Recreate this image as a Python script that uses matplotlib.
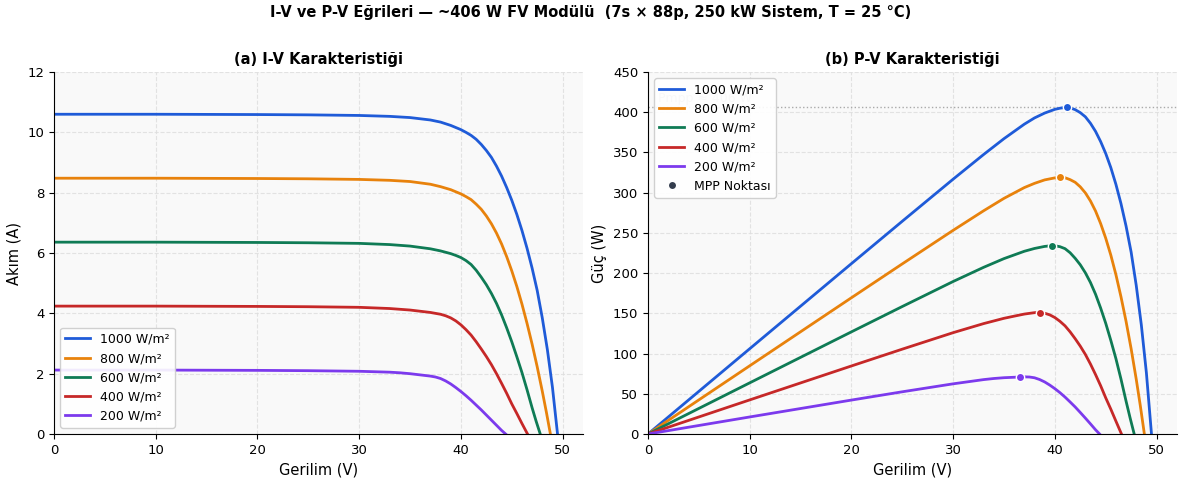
import matplotlib
matplotlib.use("Agg")
import matplotlib.pyplot as plt

# irradiance levels
etiketler = ['1000 W/m²', '800 W/m²', '600 W/m²', '400 W/m²', '200 W/m²']
renkler = ['#1f5bd8', '#e8820c', '#0f7b55', '#c62828', '#7c3aed']

# I-V points (V, A)
v_1000 = [0, 10, 20, 25, 30, 33, 35, 37, 38, 39, 40, 40.5, 41, 41.5, 42, 42.5, 43, 43.5, 44,
          44.5, 45, 45.5, 46, 46.5, 47, 47.5, 48, 48.5, 49, 49.5]
i_1000 = [10.60, 10.60, 10.59, 10.58, 10.56, 10.53, 10.49, 10.41, 10.34, 10.23, 10.09, 10.00,
          9.90, 9.77, 9.60, 9.40, 9.17, 8.88, 8.55, 8.17, 7.75, 7.28, 6.75, 6.16, 5.50, 4.76,
          3.85, 2.80, 1.55, 0]

v_800 = [0, 10, 20, 25, 30, 33, 35, 37, 38, 39, 40, 40.5, 41, 41.5, 42, 42.5, 43, 43.5, 44,
         44.5, 45, 45.5, 46, 46.5, 47, 47.5, 48, 48.4, 48.8]
i_800 = [8.48, 8.48, 8.47, 8.46, 8.44, 8.41, 8.37, 8.28, 8.20, 8.10, 7.96, 7.87, 7.77, 7.62,
         7.45, 7.23, 6.97, 6.66, 6.30, 5.88, 5.41, 4.89, 4.31, 3.67, 2.98, 2.23, 1.42, 0.73, 0]

v_600 = [0, 10, 20, 25, 30, 33, 35, 37, 38, 39, 39.5, 40, 40.5, 41, 41.5, 42, 42.5, 43, 43.5,
         44, 44.5, 45, 45.5, 46, 46.5, 47, 47.4, 47.8]
i_600 = [6.36, 6.36, 6.35, 6.34, 6.32, 6.28, 6.23, 6.14, 6.07, 5.98, 5.92, 5.85, 5.75, 5.62,
         5.43, 5.20, 4.95, 4.66, 4.33, 3.95, 3.52, 3.06, 2.56, 2.04, 1.47, 0.87, 0.42, 0]

v_400 = [0, 10, 20, 25, 30, 33, 35, 36, 37, 37.5, 38, 38.5, 39, 39.5, 40, 40.5, 41, 41.5, 42,
         42.5, 43, 43.5, 44, 44.5, 45, 45.5, 46, 46.55]
i_400 = [4.24, 4.24, 4.23, 4.22, 4.20, 4.16, 4.11, 4.07, 4.03, 4.00, 3.97, 3.92, 3.85, 3.75,
         3.62, 3.46, 3.28, 3.06, 2.82, 2.57, 2.30, 2.00, 1.68, 1.35, 1.00, 0.68, 0.35, 0]

v_200 = [0, 10, 20, 25, 30, 33, 34, 35, 36, 37, 37.5, 38, 38.5, 39, 39.5, 40, 40.5, 41, 41.5,
         42, 42.5, 43, 43.5, 44, 44.4]
i_200 = [2.12, 2.12, 2.11, 2.10, 2.08, 2.05, 2.03, 2.00, 1.96, 1.92, 1.89, 1.84, 1.76, 1.66,
         1.54, 1.41, 1.27, 1.12, 0.96, 0.80, 0.63, 0.46, 0.29, 0.12, 0]

gerilimler = [v_1000, v_800, v_600, v_400, v_200]
akimlar = [i_1000, i_800, i_600, i_400, i_200]

# MPP points
v_mpp = [41.2, 40.5, 39.7, 38.5, 36.6]
p_mpp = [406, 319, 234, 151, 71]

fig = plt.figure(figsize=(11.82, 4.83), dpi=100)
ax1 = fig.add_axes([0.0457, 0.1014, 0.4475, 0.7495])
ax2 = fig.add_axes([0.5482, 0.1014, 0.4475, 0.7495])

for ax in (ax1, ax2):
    ax.set_facecolor('#f9f9f9')
    ax.grid(True, linestyle='--', color='#dddddd', linewidth=0.8, alpha=0.8)
    ax.spines['top'].set_visible(False)
    ax.spines['right'].set_visible(False)
    ax.tick_params(labelsize=9.5)
    ax.set_xlim(0, 52)
    ax.set_xticks([0, 10, 20, 30, 40, 50])
    ax.set_xlabel('Gerilim (V)', fontsize=10.5)

# (a) I-V
for v, i, lbl, c in zip(gerilimler, akimlar, etiketler, renkler):
    ax1.plot(v, i, color=c, lw=2, label=lbl, solid_joinstyle='round')
ax1.set_ylim(0, 12)
ax1.set_yticks(range(0, 13, 2))
ax1.set_ylabel('Akım (A)', fontsize=10.5)
ax1.set_title('(a) I-V Karakteristiği', fontsize=10.5, fontweight='bold')
ax1.legend(loc='lower left', fontsize=9, framealpha=0.9)

# (b) P-V
ax2.axhline(p_mpp[0], color='#aaaaaa', ls=':', lw=1)
ax2.text(1, 413, 'Pmpp ≈ 406 W', fontsize=9, color='#bbbbbb')
for v, i, lbl, c in zip(gerilimler, akimlar, etiketler, renkler):
    p = [a * b for a, b in zip(v, i)]
    ax2.plot(v, p, color=c, lw=2, label=lbl, solid_joinstyle='round')
for vm, pm, c in zip(v_mpp, p_mpp, renkler):
    ax2.plot(vm, pm, 'o', color=c, ms=6, mec='white', mew=1, zorder=5)
ax2.plot([], [], 'o', color='#333c4d', ms=6, mec='white', mew=1, ls='none', label='MPP Noktası')
ax2.set_ylim(0, 450)
ax2.set_yticks(range(0, 451, 50))
ax2.set_ylabel('Güç (W)', fontsize=10.5)
ax2.set_title('(b) P-V Karakteristiği', fontsize=10.5, fontweight='bold')
ax2.legend(loc='upper left', fontsize=9, framealpha=0.9)

fig.suptitle('I-V ve P-V Eğrileri — ~406 W FV Modülü  (7s × 88p, 250 kW Sistem, T = 25 °C)',
             fontsize=10.5, fontweight='bold', y=0.99)

plt.savefig('out.png', dpi=100)
